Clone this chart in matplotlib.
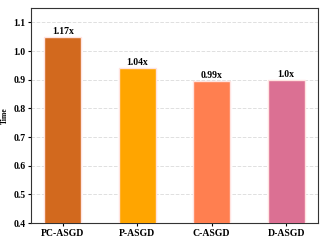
import matplotlib
matplotlib.use('Agg')
from matplotlib import pyplot as plt

methods = ["PC-ASGD", "P-ASGD", "C-ASGD", "D-ASGD"]
times = [1.05, 0.94, 0.895, 0.90]
speedups = ["1.17x", "1.04x", "0.99x", "1.0x"]
colors = ["#D2691E", "#FFA500", "#FF7F50", "#DB7093"]

plt.rcParams['font.family'] = ['Liberation Serif', 'DejaVu Serif']
plt.rcParams['font.weight'] = 'bold'

fig, ax = plt.subplots(figsize=(3.27, 2.42), dpi=100)
bars = ax.bar(methods, times, width=0.5, color=colors, edgecolor='#FFE4E1', linewidth=1, zorder=3)
for b, s in zip(bars, speedups):
    ax.text(b.get_x() + b.get_width() / 2, b.get_height() + 0.003, s,
            ha='center', va='bottom', fontsize=7, fontweight='bold')

ax.set_ylim(0.4, 1.15)
ax.set_ylabel("Time", fontsize=5.5, fontweight='bold', labelpad=3)
ax.tick_params(labelsize=7, length=2, pad=2)
for lab in ax.get_xticklabels() + ax.get_yticklabels():
    lab.set_fontweight('bold')
ax.yaxis.grid(True, linestyle='--', color='#E0E0E0', linewidth=0.7, zorder=0)
for sp in ax.spines.values():
    sp.set_color('#333333')

fig.subplots_adjust(left=0.095, right=0.972, top=0.967, bottom=0.078)
fig.savefig("out.png", dpi=100)
